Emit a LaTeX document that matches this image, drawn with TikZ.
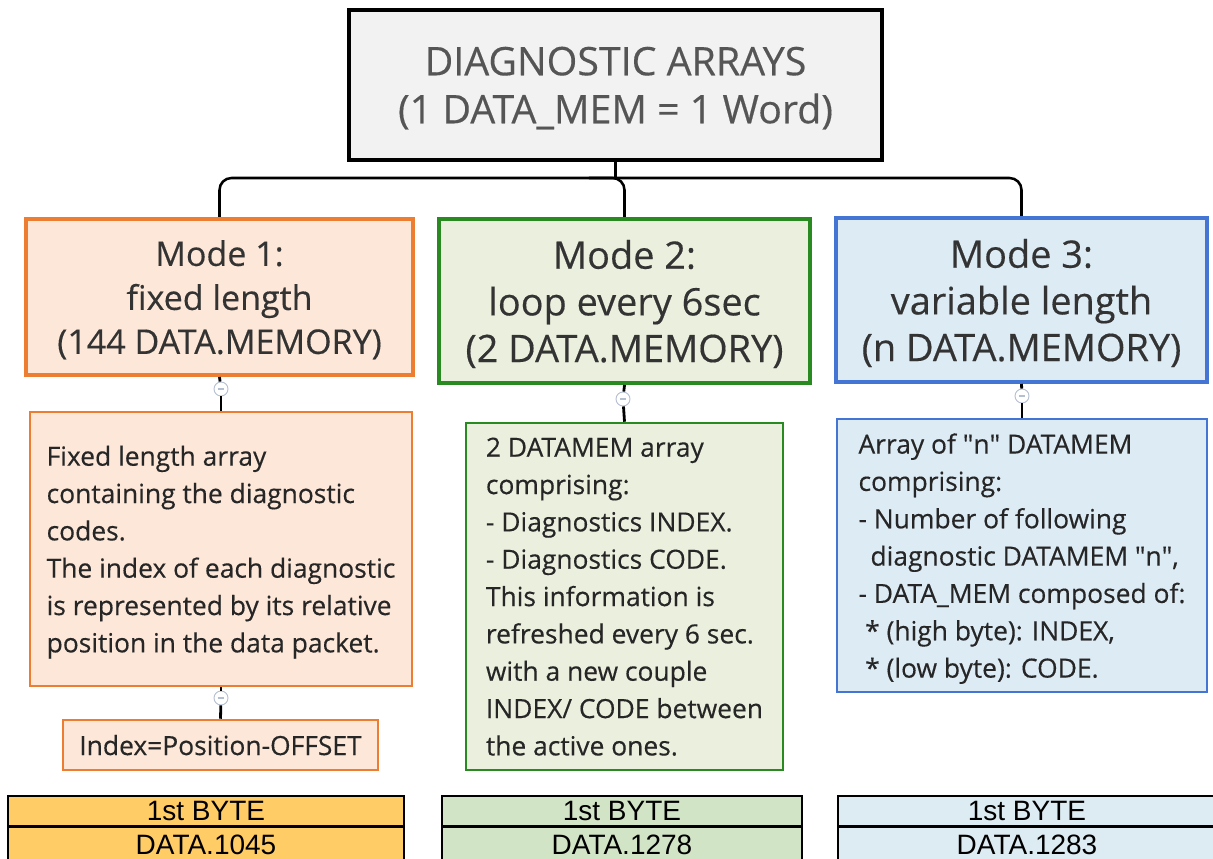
\documentclass[tikz,border=0pt]{standalone}
\usepackage{fontspec}
\setmainfont{Open Sans}[FakeBold=0.35]
\newfontfamily\cellfont{Liberation Sans}
\usepackage{tikz}
\usetikzlibrary{positioning}
\definecolor{titlefill}{HTML}{F2F2F2}
\definecolor{titletext}{HTML}{555555}
\definecolor{modetext}{HTML}{333333}
\definecolor{desctext}{HTML}{262626}
\definecolor{orangeline}{HTML}{ED7D31}
\definecolor{orangefill}{HTML}{FCE7D8}
\definecolor{greenline}{HTML}{2A8A22}
\definecolor{greenfill}{HTML}{EBF0DE}
\definecolor{blueline}{HTML}{4474D4}
\definecolor{bluefill}{HTML}{DDEBF5}
\definecolor{foldline}{HTML}{B4BFD2}
\definecolor{byteorange}{HTML}{FFCC66}
\definecolor{bytegreen}{HTML}{D2E4C6}
\definecolor{byteblue}{HTML}{DDEBF2}

\begin{document}
\begin{tikzpicture}[x=0.75pt,y=-0.75pt,thick]
\tikzstyle{title}=[rectangle,draw=black,line width=3.4pt,fill=titlefill,text=titletext,align=center,text depth=0pt,font=\fontsize{29.5}{36}\selectfont]
\tikzstyle{mode}=[rectangle,line width=3pt,text=modetext,align=center,text depth=0pt]
\tikzstyle{desc}=[rectangle,line width=1.9pt,text=desctext,align=left,text depth=0pt,font=\fontsize{19.8}{28}\selectfont]
\tikzstyle{cell}=[rectangle,draw=black,line width=1.1pt,inner sep=0pt,font=\cellfont\fontsize{21}{22}\selectfont]
\tikzstyle{fold}=[circle,draw=foldline,fill=white,line width=0.7pt,minimum size=10.5pt,inner sep=0pt,path picture={\draw[foldline,line width=0.8pt] ([xshift=-2.6pt]path picture bounding box.center) -- ([xshift=2.6pt]path picture bounding box.center);}]
\tikzstyle{link}=[line width=2.1pt,black]
\useasboundingbox (0,0) rectangle (1213,859);

\node[title,minimum width=399.75pt,minimum height=112.5pt] (arrays) at (615.5,85) {DIAGNOSTIC ARRAYS\\(1 DATA\_MEM = 1 Word)};

\node[mode,draw=orangeline,fill=orangefill,minimum width=290.25pt,minimum height=117pt,font=\fontsize{25.5}{33}\selectfont] (mode1) at (219.5,297) {Mode 1:\\fixed length\\(144 DATA.MEMORY)};
\node[mode,draw=greenline,fill=greenfill,minimum width=278.25pt,minimum height=123pt,font=\fontsize{28.4}{35}\selectfont] (mode2) at (624.5,301) {Mode 2:\\loop every 6sec\\(2 DATA.MEMORY)};
\node[mode,draw=blueline,fill=bluefill,minimum width=278.25pt,minimum height=123pt,font=\fontsize{28.4}{35}\selectfont] (mode3) at (1021.5,300) {Mode 3:\\variable length\\(n DATA.MEMORY)};

\node[desc,draw=orangeline,fill=orangefill,minimum width=286.5pt,minimum height=205.5pt] (desc1) at (221,549) {Fixed length array\\containing the diagnostic\\codes.\\The index of each diagnostic\\is represented by its relative\\position in the data packet.};
\node[desc,draw=orangeline,fill=orangefill,minimum width=236.25pt,minimum height=37.5pt,align=center] (offset) at (220.5,745) {Index=Position-OFFSET};
\node[desc,draw=greenline,fill=greenfill,minimum width=237.75pt,minimum height=260.25pt] (desc2) at (624.5,596.5) {2 DATAMEM array\\comprising:\\- Diagnostics INDEX.\\- Diagnostics CODE.\\This information is\\refreshed every 6 sec.\\with a new couple\\INDEX/ CODE between\\the active ones.};
\node[desc,draw=blueline,fill=bluefill,minimum width=277.5pt,minimum height=204.75pt] (desc3) at (1022,555.5) {Array of \textquotedbl n\textquotedbl\ DATAMEM\\comprising:\\- Number of following\\\hspace*{9pt}diagnostic DATAMEM \textquotedbl n\textquotedbl,\\- DATA\_MEM composed of:\\\hspace*{5pt}* (high byte): INDEX,\\\hspace*{5pt}* (low byte): CODE.};

\node[fold] (foldA) at (221,389) {};
\node[fold] (foldB) at (623,399) {};
\node[fold] (foldC) at (1022,396) {};
\node[fold] (foldD) at (221,698) {};

\coordinate (bus) at (615.5,178);
\draw[line width=1.9pt] (arrays.south) -- (arrays.south |- bus);
\draw[line width=1.9pt,rounded corners=9pt] (mode1.north) |- (bus) -| (mode3.north);
\draw[line width=1.9pt,rounded corners=9pt] (mode2.north) |- ([xshift=-20pt]arrays.south |- bus);

\draw[link] (mode1.south) -- (foldA);
\draw[link] (foldA) -- (desc1.north);
\draw[link] (mode2.south) -- (foldB);
\draw[link] (foldB) -- (desc2.north);
\draw[link] (mode3.south) -- (foldC);
\draw[link] (foldC) -- (desc3.north);
\draw[link] (desc1.south) -- (foldD);
\draw[link] (foldD) -- (offset.north);

\node[cell,fill=byteorange,minimum width=297pt,minimum height=22.5pt] (byteA) at (206,811) {1st BYTE};
\node[cell,fill=byteorange,minimum width=297pt,minimum height=25.5pt,below=0pt of byteA] (dataA) {DATA.1045};
\node[cell,fill=bytegreen,minimum width=270pt,minimum height=22.5pt] (byteB) at (622,811) {1st BYTE};
\node[cell,fill=bytegreen,minimum width=270pt,minimum height=25.5pt,below=0pt of byteB] (dataB) {DATA.1278};
\node[cell,fill=byteblue,minimum width=283.5pt,minimum height=22.5pt] (byteC) at (1027,811) {1st BYTE};
\node[cell,fill=byteblue,minimum width=283.5pt,minimum height=25.5pt,below=0pt of byteC] (dataC) {DATA.1283};
\end{tikzpicture}
\end{document}
